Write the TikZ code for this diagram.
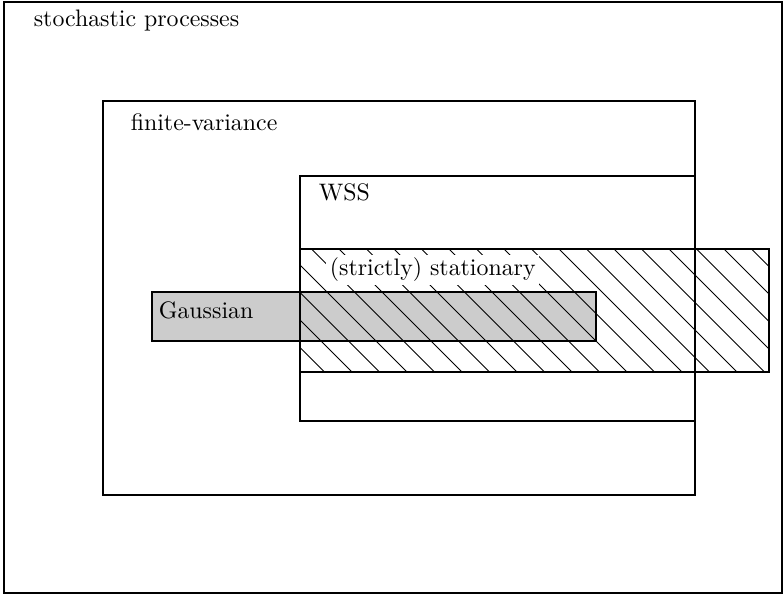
\documentclass[tikz,border=0pt]{standalone}
\begin{document}
\begin{tikzpicture}[x=0.4444pt,y=-0.4444pt,
  setbox/.style={line width=1.2pt},
  hatchline/.style={line width=0.4pt},
  setlabel/.style={anchor=west,inner sep=1.5pt,font=\fontsize{10.6}{13}\selectfont}]
\useasboundingbox (0,0) rectangle (784,595);
% nested sets
\draw[setbox] (4,2) rectangle (782,593);
\draw[setbox] (103,101) rectangle (695,495);
\draw[setbox] (300,176) rectangle (695,421);
% Gaussian processes
\fill[black!20] (152,292) rectangle (596,341);
% stationary: hatched band
\begin{scope}
  \clip (300,249) rectangle (769,372);
  \foreach \i in {-6,...,18}
    \draw[hatchline] (284+\i*27.5,249) -- ++(130,130);
\end{scope}
\node[setlabel,fill=white] (stat) at (326,270) {(strictly) stationary};
\draw[setbox] (300,249) rectangle (769,372);
\draw[setbox] (152,292) rectangle (596,341);
\draw[setbox] (300,176) -- (300,421);
\draw[setbox] (695,101) -- (695,495);
% labels
\node[setlabel] (sp) at (30,21) {stochastic processes};
\node[setlabel] (fv) at (127,122) {finite-variance};
\node[setlabel] (wss) at (315,192) {WSS};
\node[setlabel] (gau) at (155,310) {Gaussian};
\end{tikzpicture}
\end{document}
